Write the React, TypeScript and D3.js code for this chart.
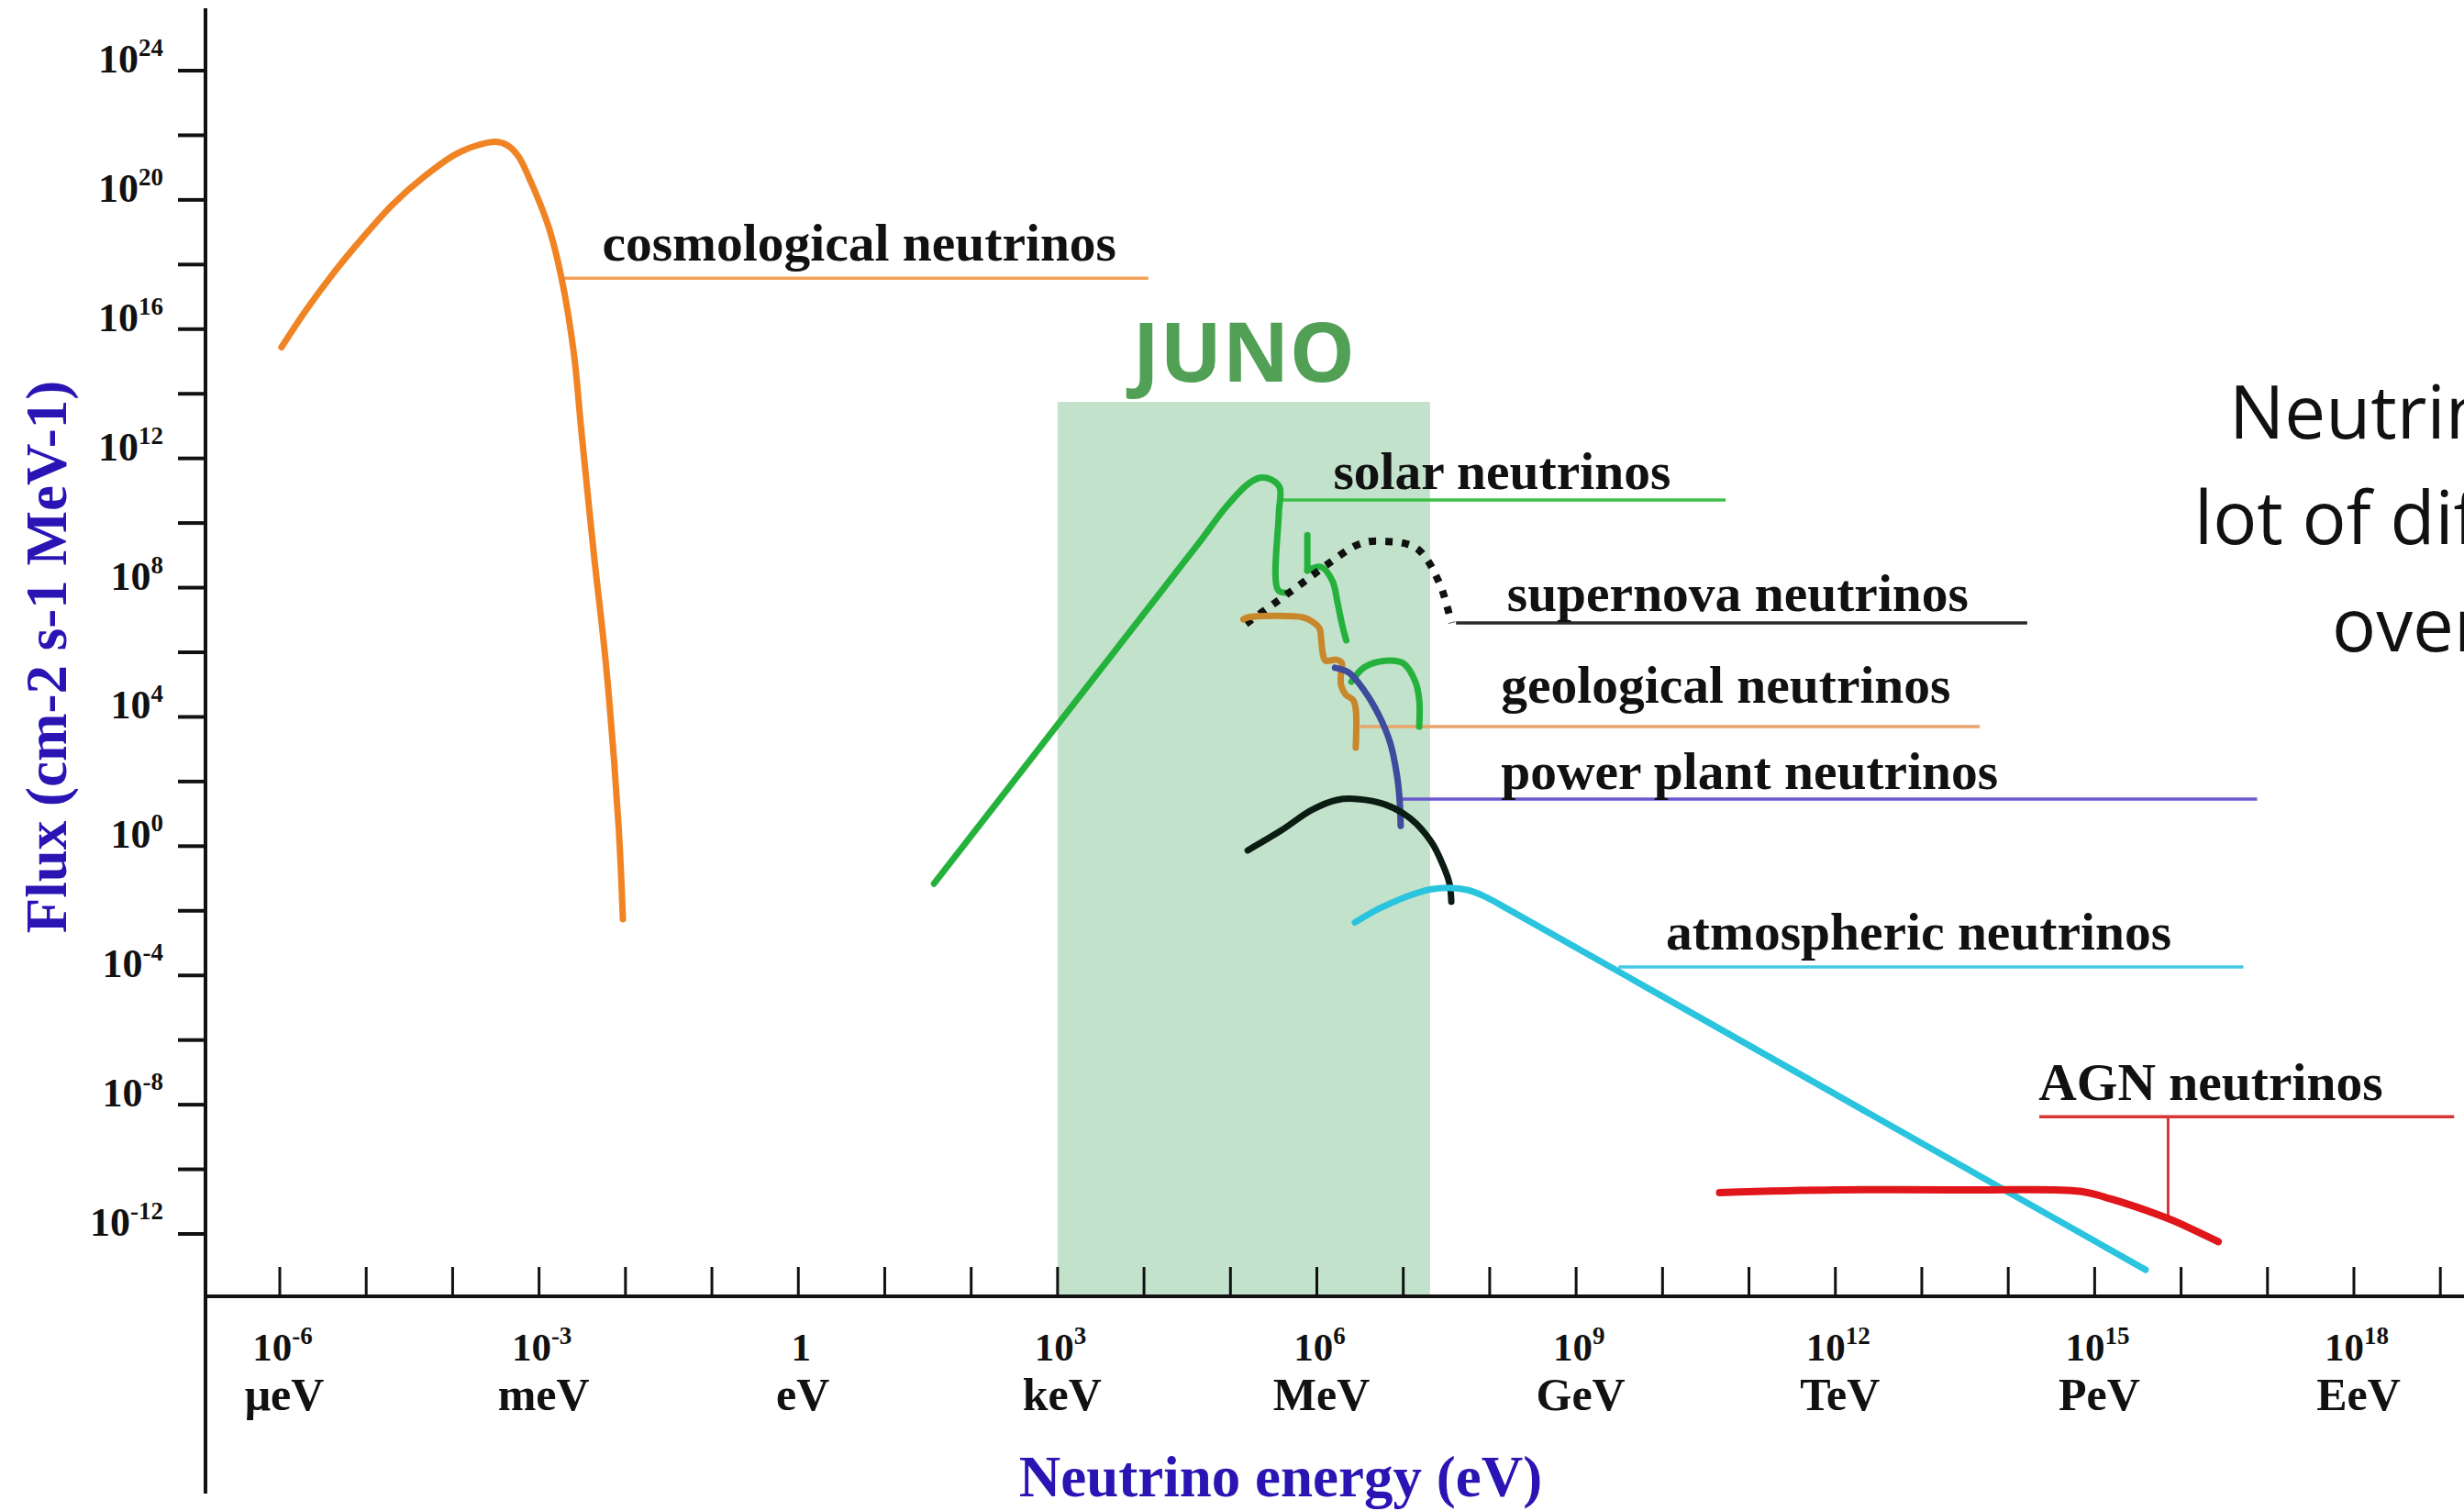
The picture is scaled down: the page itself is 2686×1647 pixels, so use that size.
import React from 'react';
import * as d3 from 'd3';

// ---------------- data (log10 energy in eV, log10 flux) ----------------
const xTickExps = d3.range(-6, 20);
const xLabelExps = [-6, -3, 0, 3, 6, 9, 12, 15, 18];
const xUnitLabels = ['μeV', 'meV', 'eV', 'keV', 'MeV', 'GeV', 'TeV', 'PeV', 'EeV'];
const yTickExps = d3.range(-12, 25, 2);
const yLabelExps = [24, 20, 16, 12, 8, 4, 0, -4, -8, -12];

const cosmological: [number, number][] = [
  [-5.98, 15.44], [-5.69, 16.61], [-5.38, 17.73], [-5.05, 18.8], [-4.69, 19.87],
  [-4.32, 20.74], [-3.96, 21.42], [-3.7, 21.7], [-3.5, 21.8], [-3.36, 21.68],
  [-3.24, 21.35], [-3.12, 20.71], [-2.89, 19.17], [-2.74, 17.58], [-2.6, 15.31],
  [-2.51, 12.84], [-2.37, 9.15], [-2.22, 5.46], [-2.08, 0.63], [-2.03, -2.26],
];
const solarMain: [number, number][] = [
  [1.57, -1.16], [3.52, 5.55], [4.62, 9.33], [4.95, 10.5], [5.2, 11.2], [5.34, 11.4],
  [5.47, 11.35], [5.57, 11.1], [5.56, 10.3], [5.55, 7.93], [5.65, 7.84],
];
const solarLineStem: [number, number][] = [[5.89, 9.63], [5.89, 8.53]];
const solarLineTail: [number, number][] = [
  [5.89, 8.53], [6.05, 8.64], [6.18, 8.21], [6.24, 7.53], [6.29, 6.88], [6.34, 6.37],
];
const solarArch: [number, number][] = [
  [6.4, 5.09], [6.55, 5.54], [6.79, 5.74], [7.0, 5.66], [7.14, 5.09], [7.185, 4.52], [7.185, 3.7],
];
const supernova: [number, number][] = [
  [5.18, 6.88], [5.5, 7.5], [5.81, 8.1], [6.12, 8.72], [6.44, 9.29], [6.61, 9.43],
  [6.81, 9.43], [7.0, 9.38], [7.16, 9.21], [7.29, 8.81], [7.38, 8.36], [7.45, 7.93],
  [7.51, 7.39], [7.56, 6.91],
];
const geological: [number, number][] = [
  [5.15, 7.02], [5.2, 7.08], [5.84, 7.08], [5.94, 6.96], [6.03, 6.74], [6.05, 6.4],
  [6.07, 5.94], [6.1, 5.74], [6.23, 5.77], [6.29, 5.66], [6.28, 5.37], [6.28, 4.98],
  [6.335, 4.69], [6.42, 4.52], [6.45, 4.24], [6.45, 3.05],
];
const powerPlant: [number, number][] = [
  [6.21, 5.52], [6.37, 5.37], [6.55, 4.81], [6.72, 4.04], [6.85, 3.19], [6.93, 2.14],
  [6.96, 1.34], [6.97, 0.63],
];
const relic: [number, number][] = [
  [5.2, -0.13], [5.59, 0.49], [5.94, 1.12], [6.23, 1.43], [6.47, 1.46], [6.79, 1.29],
  [7.08, 0.86], [7.32, 0.15], [7.46, -0.59], [7.535, -1.16], [7.556, -1.72],
];
const atmospheric: [number, number][] = [
  [6.44, -2.36], [6.73, -1.92], [7.02, -1.58], [7.31, -1.34], [7.53, -1.29],
  [7.75, -1.36], [7.93, -1.54], [8.12, -1.81], [10.0, -4.65], [13.5, -9.95], [15.59, -13.11],
];
const agn: [number, number][] = [
  [10.66, -10.72], [12.0, -10.64], [13.59, -10.64], [14.83, -10.68], [15.19, -10.92],
  [15.74, -11.41], [15.92, -11.6], [16.43, -12.24],
];

// JUNO band: energy range (log10 eV) and top of the box (log10 flux)
const junoEnergyRange = [3, 7.31];
const junoFluxTop = 13.75;

// label leader lines: [eStart, eEnd, flux]
const leaders = [
  { name: 'cosmological neutrinos', line: [-2.76, 4.05, 17.58], text: [-2.27, 18.12], color: '#f2a25a' },
  { name: 'solar neutrinos', line: [5.59, 10.73, 10.71], text: [6.19, 11.05], color: '#3cbf48' },
  { name: 'supernova neutrinos', line: [7.61, 14.22, 6.91], text: [8.2, 7.28], color: '#2a2a2a' },
  { name: 'geological neutrinos', line: [6.5, 13.67, 3.7], text: [8.13, 4.44], color: '#e9a56a' },
  { name: 'power plant neutrinos', line: [6.98, 16.88, 1.46], text: [8.13, 1.77], color: '#6b58cf' },
  { name: 'atmospheric neutrinos', line: [9.49, 16.72, -3.74], text: [10.04, -3.2], color: '#45c9e2' },
  { name: 'AGN neutrinos', line: [14.36, 19.16, -8.37], text: [14.35, -7.86], color: '#d63636' },
];
const agnDrop = [15.85, -8.37, -11.52];

const sideText = ['Neutrinos', 'lot of different', 'over'];

// ---------------- layout ----------------
const W = 2686;
const H = 1647;
const Y_AXIS_X = 224;
const X_AXIS_Y = 1413;

const xScale = d3.scaleLog().domain([1e-6, 1e18]).range([305, 2566]);
const yScale = d3.scaleLog().domain([1e-12, 1e24]).range([1345, 77]);

const px = (e: number) => xScale(Math.pow(10, e));
const py = (f: number) => yScale(Math.pow(10, f));

const smooth = d3
  .line<[number, number]>()
  .x((d) => px(d[0]))
  .y((d) => py(d[1]))
  .curve(d3.curveCatmullRom.alpha(0.5));
const straight = d3
  .line<[number, number]>()
  .x((d) => px(d[0]))
  .y((d) => py(d[1]));

const serif = '"Liberation Serif", "Times New Roman", serif';

export default function App() {
  const jx0 = px(junoEnergyRange[0]);
  const jx1 = px(junoEnergyRange[1]);
  const jy0 = py(junoFluxTop);
  const curveStyle = { fill: 'none', strokeWidth: 7, strokeLinecap: 'round' as const, strokeLinejoin: 'round' as const };

  return (
    <svg
      width={W}
      height={H}
      viewBox={`0 0 ${W} ${H}`}
      style={{ position: 'absolute', left: 0, top: 0, background: '#ffffff' }}
    >
      <rect x={0} y={0} width={W} height={H} fill="#ffffff" />

      {/* JUNO band */}
      <rect x={jx0} y={jy0} width={jx1 - jx0} height={X_AXIS_Y - jy0} fill="#c3e2cb" />
      <text
        x={(jx0 + jx1) / 2}
        y={jy0 - 22}
        textAnchor="middle"
        fontFamily='"Open Sans", sans-serif'
        fontWeight={700}
        fontSize={90}
        fill="#52a056"
      >
        JUNO
      </text>

      {/* axes */}
      <line x1={Y_AXIS_X} y1={9} x2={Y_AXIS_X} y2={1628} stroke="#111" strokeWidth={4} />
      <line x1={Y_AXIS_X} y1={X_AXIS_Y} x2={W} y2={X_AXIS_Y} stroke="#111" strokeWidth={4} />
      {yTickExps.map((e) => (
        <line key={'yt' + e} x1={Y_AXIS_X - 30} x2={Y_AXIS_X} y1={py(e)} y2={py(e)} stroke="#111" strokeWidth={4} />
      ))}
      {xTickExps.map((e) => (
        <line key={'xt' + e} x1={px(e)} x2={px(e)} y1={X_AXIS_Y - 32} y2={X_AXIS_Y} stroke="#111" strokeWidth={3} />
      ))}
      {yLabelExps.map((e) => (
        <text
          key={'yl' + e}
          x={Y_AXIS_X - 46}
          y={py(e) + 2}
          textAnchor="end"
          fontFamily={serif}
          fontWeight={700}
          fontSize={44}
          fill="#111"
        >
          <tspan>10</tspan>
          <tspan fontSize={27} dy={-18}>{String(e)}</tspan>
        </text>
      ))}
      {xLabelExps.map((e, i) => (
        <g key={'xl' + e}>
          <text
            x={px(e) + 3}
            y={X_AXIS_Y + 70}
            textAnchor="middle"
            fontFamily={serif}
            fontWeight={700}
            fontSize={43}
            fill="#111"
          >
            {e === 0 ? (
              <tspan>1</tspan>
            ) : (
              <>
                <tspan>10</tspan>
                <tspan fontSize={27} dy={-18}>{String(e)}</tspan>
              </>
            )}
          </text>
          <text
            x={px(e) + 5}
            y={X_AXIS_Y + 124}
            textAnchor="middle"
            fontFamily={serif}
            fontWeight={700}
            fontSize={50}
            fill="#111"
          >
            {xUnitLabels[i]}
          </text>
        </g>
      ))}

      {/* axis titles */}
      <text
        transform={`translate(72, 716) rotate(-90)`}
        textAnchor="middle"
        fontFamily={serif}
        fontWeight={700}
        fontSize={63}
        fill="#2a14b4"
      >
        Flux (cm-2 s-1 MeV-1)
      </text>
      <text
        x={1396}
        y={1631}
        textAnchor="middle"
        fontFamily={serif}
        fontWeight={700}
        fontSize={63}
        fill="#2a14b4"
      >
        Neutrino energy (eV)
      </text>

      {/* leader lines */}
      {leaders.map((l) => (
        <line
          key={'ll' + l.name}
          x1={px(l.line[0])}
          x2={px(l.line[1])}
          y1={py(l.line[2])}
          y2={py(l.line[2])}
          stroke={l.color}
          strokeWidth={3.5}
        />
      ))}
      <line x1={px(agnDrop[0])} x2={px(agnDrop[0])} y1={py(agnDrop[1])} y2={py(agnDrop[2])} stroke="#d63636" strokeWidth={3} />

      {/* curves */}
      <path d={smooth(cosmological) || ''} stroke="#f08424" {...curveStyle} />
      <path d={smooth(solarMain) || ''} stroke="#25b23c" {...curveStyle} />
      <path d={straight(solarLineStem) || ''} stroke="#25b23c" {...curveStyle} />
      <path d={smooth(solarLineTail) || ''} stroke="#25b23c" {...curveStyle} />
      <path d={smooth(solarArch) || ''} stroke="#25b23c" {...curveStyle} />
      <path
        d={smooth(supernova) || ''}
        stroke="#111"
        fill="none"
        strokeWidth={8}
        strokeDasharray="8 10"
      />
      <path d={smooth(geological) || ''} stroke="#c8872b" {...curveStyle} />
      <path d={smooth(powerPlant) || ''} stroke="#3f4b9c" {...curveStyle} />
      <path d={smooth(relic) || ''} stroke="#0b1c12" {...curveStyle} />
      <path d={smooth(atmospheric) || ''} stroke="#2ac4de" {...curveStyle} />
      <path d={smooth(agn) || ''} stroke="#e0161b" {...curveStyle} strokeWidth={8} />

      {/* series labels */}
      {leaders.map((l) => (
        <text
          key={'lt' + l.name}
          x={px(l.text[0])}
          y={py(l.text[1])}
          fontFamily={serif}
          fontWeight={700}
          fontSize={57.5}
          fill="#111"
        >
          {l.name}
        </text>
      ))}

      {/* side caption (cut off at right edge, as in the reference) */}
      <text fontFamily='"Open Sans", sans-serif' fontSize={80} fill="#111">
        <tspan x={2430} y={478}>{sideText[0]}</tspan>
        <tspan x={2392} y={593}>{sideText[1]}</tspan>
        <tspan x={2542} y={710}>{sideText[2]}</tspan>
      </text>
    </svg>
  );
}
